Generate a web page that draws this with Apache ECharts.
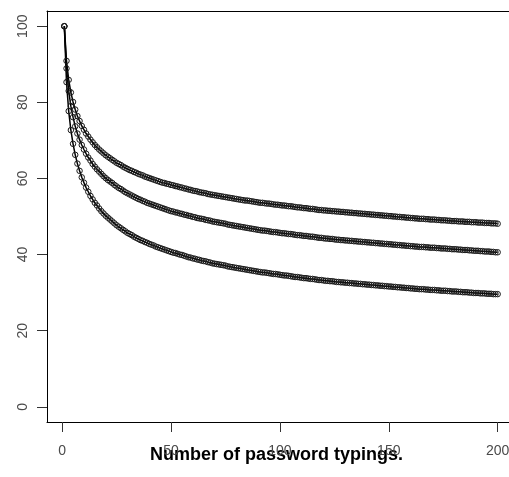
<!DOCTYPE html>
<html>
<head>
<meta charset="utf-8">
<script src="https://cdn.jsdelivr.net/npm/echarts@6/dist/echarts.min.js"></script>
<style>
  html, body { margin: 0; padding: 0; background: #fff; }
  #chart { width: 509px; height: 477px; }
</style>
</head>
<body>
<div id="chart"></div>
<script>
// Three learning curves, one value per password typing (typings 1..200)
const curveHigh = [
  100, 90.9, 85.9, 82.6, 80.1, 78.1, 76.4, 75.1, 73.8, 72.8, 71.8, 71.0, 70.2, 69.5, 68.8, 68.2, 67.6, 67.1, 66.6, 66.1,
  65.7, 65.3, 64.9, 64.5, 64.1, 63.8, 63.5, 63.1, 62.8, 62.5, 62.2, 62.0, 61.7, 61.5, 61.2, 61.0, 60.8, 60.5, 60.3, 60.1,
  59.9, 59.7, 59.5, 59.3, 59.1, 58.9, 58.8, 58.6, 58.5, 58.3,
  58.2, 58.0, 57.9, 57.7, 57.6, 57.4, 57.3, 57.1, 57.0, 56.8,
  56.7, 56.6, 56.4, 56.3, 56.2, 56.1, 55.9, 55.8, 55.7, 55.6,
  55.5, 55.4, 55.3, 55.2, 55.1, 55.0, 54.9, 54.8, 54.7, 54.6,
  54.5, 54.4, 54.3, 54.2, 54.2, 54.1, 54.0, 53.9, 53.8, 53.7,
  53.6, 53.6, 53.5, 53.4, 53.4, 53.3, 53.2, 53.1, 53.1, 53.0,
  52.9, 52.9, 52.8, 52.7, 52.7, 52.6, 52.5, 52.4, 52.4, 52.3,
  52.2, 52.2, 52.1, 52.0, 52.0, 51.9, 51.8, 51.7, 51.7, 51.6,
  51.6, 51.5, 51.5, 51.4, 51.4, 51.3, 51.3, 51.2, 51.2, 51.1,
  51.1, 51.0, 51.0, 50.9, 50.9, 50.8, 50.8, 50.7, 50.7, 50.6,
  50.6, 50.5, 50.5, 50.4, 50.4, 50.3, 50.3, 50.2, 50.2, 50.1,
  50.1, 50.0, 50.0, 49.9, 49.9, 49.8, 49.8, 49.7, 49.7, 49.6,
  49.6, 49.5, 49.5, 49.4, 49.4, 49.4, 49.3, 49.3, 49.2, 49.2,
  49.2, 49.1, 49.1, 49.0, 49.0, 49.0, 48.9, 48.9, 48.8, 48.8,
  48.8, 48.7, 48.7, 48.7, 48.6, 48.6, 48.6, 48.5, 48.5, 48.5,
  48.4, 48.4, 48.4, 48.3, 48.3, 48.3, 48.2, 48.2, 48.2, 48.1
];

const curveMid = [
  100, 88.9, 83.0, 79.0, 76.1, 73.7, 71.8, 70.2, 68.8, 67.6, 66.5, 65.5, 64.7, 63.8, 63.1, 62.4, 61.8, 61.2, 60.6, 60.1,
  59.6, 59.2, 58.8, 58.3, 57.9, 57.5, 57.2, 56.8, 56.4, 56.1, 55.8, 55.5, 55.2, 54.9, 54.6, 54.4, 54.1, 53.9, 53.6, 53.4,
  53.2, 53.0, 52.8, 52.6, 52.4, 52.2, 52.0, 51.8, 51.6, 51.4,
  51.3, 51.1, 51.0, 50.8, 50.7, 50.5, 50.4, 50.2, 50.1, 49.9,
  49.8, 49.6, 49.5, 49.4, 49.3, 49.1, 49.0, 48.9, 48.7, 48.6,
  48.5, 48.4, 48.3, 48.2, 48.1, 47.9, 47.8, 47.7, 47.6, 47.5,
  47.4, 47.3, 47.2, 47.1, 47.0, 46.9, 46.8, 46.7, 46.6, 46.5,
  46.4, 46.3, 46.3, 46.2, 46.1, 46.0, 45.9, 45.9, 45.8, 45.7,
  45.6, 45.6, 45.5, 45.4, 45.4, 45.3, 45.2, 45.1, 45.1, 45.0,
  44.9, 44.9, 44.8, 44.7, 44.7, 44.6, 44.5, 44.4, 44.4, 44.3,
  44.2, 44.2, 44.1, 44.1, 44.0, 43.9, 43.9, 43.8, 43.8, 43.7,
  43.7, 43.6, 43.6, 43.5, 43.5, 43.4, 43.4, 43.3, 43.3, 43.2,
  43.2, 43.1, 43.1, 43.0, 43.0, 42.9, 42.9, 42.8, 42.8, 42.7,
  42.7, 42.6, 42.6, 42.5, 42.5, 42.4, 42.4, 42.3, 42.3, 42.2,
  42.2, 42.1, 42.1, 42.0, 42.0, 42.0, 41.9, 41.9, 41.8, 41.8,
  41.8, 41.7, 41.7, 41.6, 41.6, 41.6, 41.5, 41.5, 41.4, 41.4,
  41.4, 41.3, 41.3, 41.2, 41.2, 41.2, 41.1, 41.1, 41.0, 41.0,
  41.0, 40.9, 40.9, 40.8, 40.8, 40.8, 40.7, 40.7, 40.6, 40.6
];

const curveLow = [
  100, 85.3, 77.7, 72.7, 69.1, 66.2, 63.9, 62.0, 60.3, 58.9, 57.6, 56.5, 55.4, 54.5, 53.6, 52.9, 52.1, 51.4, 50.8, 50.2,
  49.7, 49.2, 48.7, 48.2, 47.7, 47.3, 46.9, 46.5, 46.1, 45.7, 45.4, 45.1, 44.7, 44.4, 44.1, 43.8, 43.6, 43.3, 43.1, 42.8,
  42.6, 42.4, 42.1, 41.9, 41.7, 41.5, 41.3, 41.1, 40.9, 40.7,
  40.5, 40.4, 40.2, 40.0, 39.9, 39.7, 39.5, 39.3, 39.2, 39.0,
  38.9, 38.7, 38.6, 38.4, 38.3, 38.2, 38.0, 37.9, 37.7, 37.6,
  37.5, 37.4, 37.3, 37.2, 37.1, 36.9, 36.8, 36.7, 36.6, 36.5,
  36.4, 36.3, 36.2, 36.1, 36.0, 35.9, 35.8, 35.7, 35.6, 35.5,
  35.4, 35.3, 35.3, 35.2, 35.1, 35.0, 34.9, 34.9, 34.8, 34.7,
  34.6, 34.5, 34.5, 34.4, 34.3, 34.2, 34.1, 34.1, 34.0, 33.9,
  33.8, 33.8, 33.7, 33.6, 33.6, 33.5, 33.4, 33.3, 33.3, 33.2,
  33.1, 33.1, 33.0, 33.0, 32.9, 32.8, 32.8, 32.7, 32.7, 32.6,
  32.6, 32.5, 32.5, 32.4, 32.4, 32.3, 32.3, 32.2, 32.2, 32.1,
  32.1, 32.0, 32.0, 31.9, 31.9, 31.8, 31.8, 31.7, 31.7, 31.6,
  31.6, 31.5, 31.5, 31.4, 31.4, 31.3, 31.3, 31.2, 31.2, 31.1,
  31.1, 31.0, 31.0, 30.9, 30.9, 30.9, 30.8, 30.8, 30.7, 30.7,
  30.7, 30.6, 30.6, 30.5, 30.5, 30.5, 30.4, 30.4, 30.3, 30.3,
  30.3, 30.2, 30.2, 30.1, 30.1, 30.1, 30.0, 30.0, 29.9, 29.9,
  29.9, 29.8, 29.8, 29.8, 29.7, 29.7, 29.7, 29.6, 29.6, 29.6
];

// Tick labels and axis title
const xTicks = [0, 50, 100, 150, 200];
const yTicks = [0, 20, 40, 60, 80, 100];
const xTitle = 'Number of password typings.';

// pair each value with its typing number (1-based)
function toPoints(values) {
  return values.map((v, i) => [i + 1, v]);
}

function curveSeries(values) {
  return {
    type: 'line',
    xAxisIndex: 0,
    data: toPoints(values),
    symbol: 'circle',
    symbolSize: 5.5,
    showSymbol: true,
    itemStyle: { color: 'rgba(255,255,255,0)', borderColor: '#1a1a1a', borderWidth: 1 },
    lineStyle: { color: '#000', width: 1.5 },
    emphasis: { disabled: true },
    animation: false
  };
}

const chart = echarts.init(document.getElementById('chart'), null, { renderer: 'canvas' });

const labelFont = { fontFamily: 'Liberation Sans, Arial, sans-serif', fontSize: 14, color: '#4a4a4a' };
const frameLine = { show: true, onZero: false, lineStyle: { color: '#000', width: 1 } };

chart.setOption({
  backgroundColor: '#fff',
  animation: false,
  grid: {
    left: 47, top: 11, width: 468, height: 411,
    outerBoundsMode: 'none',
    containLabel: false,
    show: false
  },
  xAxis: [{
    type: 'value',
    position: 'bottom',
    min: -6.96,
    max: 207.96,
    axisLine: frameLine,
    splitLine: { show: false },
    axisTick: { show: true, inside: false, length: 10, customValues: xTicks, lineStyle: { color: '#333' } },
    axisLabel: Object.assign({ margin: 22, customValues: xTicks, showMaxLabel: true, showMinLabel: true, hideOverlap: false }, labelFont)
  }, {
    // top edge of the plot frame
    type: 'value',
    position: 'top',
    min: -6.96,
    max: 207.96,
    axisLine: frameLine,
    splitLine: { show: false },
    axisTick: { show: false },
    axisLabel: { show: false }
  }],
  yAxis: {
    type: 'value',
    min: -4,
    max: 104,
    axisLine: frameLine,
    splitLine: { show: false },
    axisTick: { show: true, inside: false, length: 10, customValues: yTicks, lineStyle: { color: '#333' } },
    axisLabel: Object.assign({ margin: 17, rotate: 90, customValues: yTicks, showMaxLabel: true, showMinLabel: true, hideOverlap: false }, labelFont)
  },
  graphic: [{
    type: 'text',
    left: 150, top: 446,
    style: {
      text: xTitle,
      font: 'bold 18px "Liberation Sans", Arial, sans-serif',
      fill: '#000'
    }
  }],
  series: [curveSeries(curveHigh), curveSeries(curveMid), curveSeries(curveLow)]
});
</script>
</body>
</html>
